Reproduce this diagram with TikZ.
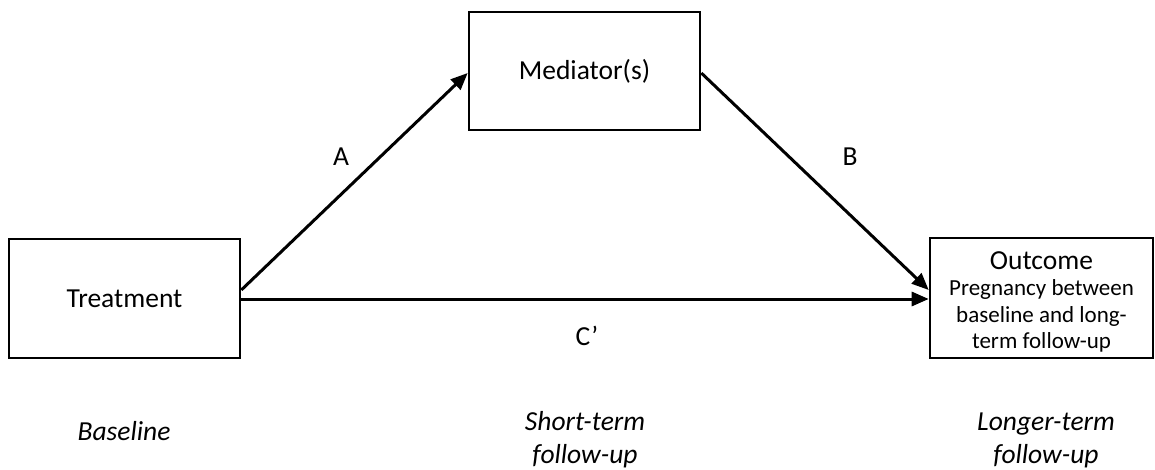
\documentclass[tikz,border=0pt]{standalone}
\usepackage{fontspec}
\setmainfont{Carlito}
\usetikzlibrary{arrows.meta}
\tikzset{
  box/.style={draw=black, line width=2.6pt, fill=white, inner sep=0pt},
  link/.style={draw=black, line width=3pt, -{Triangle[length=17pt,width=14pt]}},
  big/.style={font=\fontsize{27.5}{32}\selectfont},
  stage/.style={font=\fontsize{27.5}{33}\selectfont\itshape, align=center, anchor=base},
  tag/.style={font=\fontsize{27.5}{32}\selectfont, anchor=base}
}
\begin{document}
\begin{tikzpicture}[x=1pt,y=-1pt]
\useasboundingbox (0,0) rectangle (1155,470);

% boxes
\node[box, big, minimum width=231pt, minimum height=119pt] (treat) at (124.5,298.5) {Treatment};
\node[box, big, minimum width=231pt, minimum height=118pt] (med) at (584.5,71) {Mediator(s)};
\node[box, minimum width=223pt, minimum height=120pt, align=center,
      font=\fontsize{23}{26.5}\selectfont] (out) at (1041.5,298)
  {\rule{0pt}{26pt}{\fontsize{27.5}{26.5}\selectfont Outcome}\\Pregnancy between\\baseline and long-\\term follow-up};

% paths
\draw[link] ([yshift=8.5pt]treat.east) -- ([yshift=-2pt]med.west);
\draw[link] ([yshift=-2pt]med.east) -- ([yshift=8pt]out.west);
\draw[link] ([yshift=-0.5pt]treat.east) -- ([yshift=-1pt]out.west);

% path labels
\node[tag] (la) at (341,166) {A};
\node[tag] (lb) at (850,166) {B};
\node[tag] (lc) at (587,345) {C’};

% time points (base anchor sits on the last line)
\node[stage] (t0) at (124,440) {Baseline};
\node[stage] (t1) at (585,463) {Short-term\\follow-up};
\node[stage] (t2) at (1046,463) {Longer-term\\follow-up};
\end{tikzpicture}
\end{document}
